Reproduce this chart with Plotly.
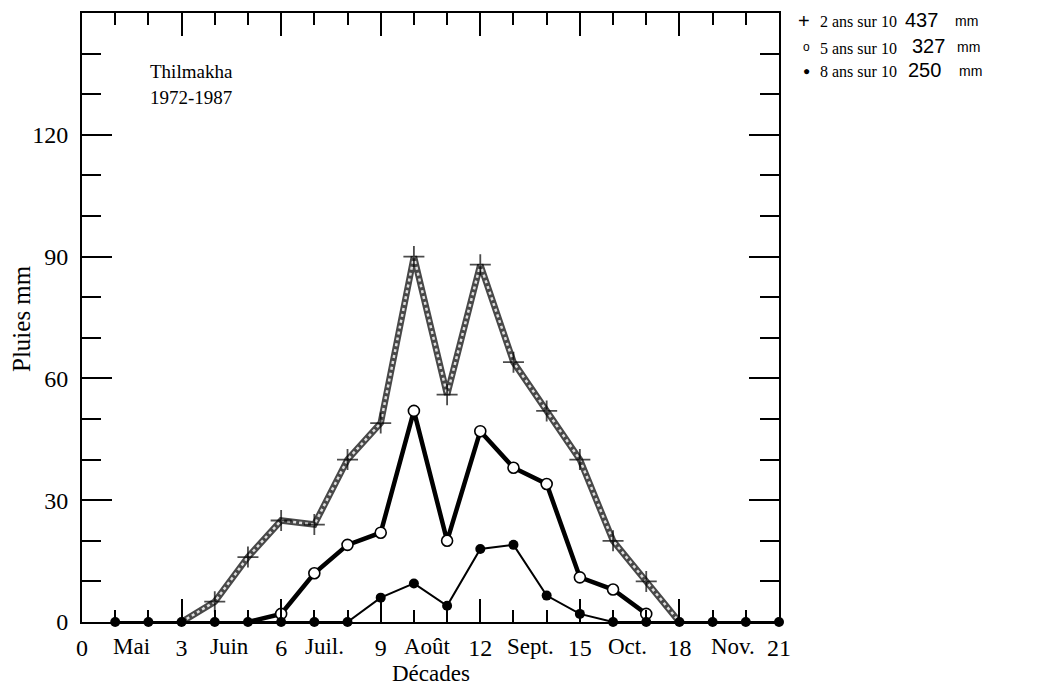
import plotly.graph_objects as go

# ---- data ----
dec_2ans = list(range(3, 19))
val_2ans = [0, 5, 16, 25, 24, 40, 49, 90, 56, 88, 64, 52, 40, 20, 10, 0]

dec_5ans = list(range(5, 18))
val_5ans = [0, 2, 12, 19, 22, 52, 20, 47, 38, 34, 11, 8, 2]

dec_8ans = list(range(1, 22))
val_8ans = [0, 0, 0, 0, 0, 0, 0, 0, 6, 9.5, 4, 18, 19, 6.5, 2, 0, 0, 0, 0, 0, 0]

month_labels = ["Mai", "Juin", "Juil.", "Août", "Sept.", "Oct.", "Nov."]
month_pos = [1.5, 4.45, 7.3, 10.4, 13.5, 16.45, 19.6]

x_ticks = [0, 3, 6, 9, 12, 15, 18, 21]
y_ticks = [0, 30, 60, 90, 120, 150]
y_ticktext = ["0", "30", "60", "90", "120", ""]

legend_labels = ["2 ans sur 10", "5 ans sur 10", "8 ans sur 10"]
legend_totals = ["437", "327", "250"]

SERIF = "Liberation Serif"
SANS = "Liberation Sans"

fig = go.Figure()

# 2 ans sur 10: grey hatched band
fig.add_trace(go.Scatter(x=dec_2ans, y=val_2ans, mode="lines",
                         line=dict(color="#484848", width=6.5),
                         cliponaxis=False, showlegend=False, hoverinfo="skip"))
fig.add_trace(go.Scatter(x=dec_2ans, y=val_2ans, mode="lines",
                         line=dict(color="#dddddd", width=2.5, dash="dot"),
                         cliponaxis=False, showlegend=False, hoverinfo="skip"))
plus_sizes = [0] + [15] * (len(dec_2ans) - 2) + [0]
fig.add_trace(go.Scatter(x=dec_2ans, y=val_2ans, mode="markers",
                         marker=dict(symbol="cross-thin", size=plus_sizes,
                                     line=dict(color="black", width=1.8)),
                         cliponaxis=False, showlegend=False))

# 5 ans sur 10: thick black line, open circles
circ_sizes = [0] + [11] * (len(dec_5ans) - 1)
fig.add_trace(go.Scatter(x=dec_5ans, y=val_5ans, mode="lines",
                         line=dict(color="black", width=4.5),
                         cliponaxis=False, showlegend=False, hoverinfo="skip"))
fig.add_trace(go.Scatter(x=dec_5ans, y=val_5ans, mode="markers",
                         marker=dict(symbol="circle", size=circ_sizes, color="#ffffff",
                                     opacity=1, line=dict(color="#000000", width=1.6)),
                         cliponaxis=False, showlegend=False))

# 8 ans sur 10: thin black line, filled dots
fig.add_trace(go.Scatter(x=dec_8ans, y=val_8ans, mode="lines+markers",
                         line=dict(color="black", width=2),
                         marker=dict(symbol="circle", size=10, color="black"),
                         cliponaxis=False, showlegend=False))

# page body has an 8px margin: the figure is shifted accordingly
OFF = 8
W, H = 1054 - OFF, 689 - OFF
L_REF, T_REF, AX_RIGHT, AX_BOTTOM = 82, 13, 779, 622
L, T = L_REF - OFF, T_REF - OFF
R = W - (AX_RIGHT - OFF)
B = H - (AX_BOTTOM - OFF)
PW, PH = W - L - R, H - T - B


def px(xp):
    return (xp - L_REF) / PW


def py(yp):
    return (AX_BOTTOM - yp) / PH


annotations = []
# station label
annotations.append(dict(x=px(148), y=py(71), xref="paper", yref="paper", text="Thilmakha",
                        showarrow=False, xanchor="left", yanchor="middle",
                        font=dict(family=SERIF, size=19, color="black")))
annotations.append(dict(x=px(148), y=py(97), xref="paper", yref="paper", text="1972-1987",
                        showarrow=False, xanchor="left", yanchor="middle",
                        font=dict(family=SERIF, size=19, color="black")))
# month labels
for m, p in zip(month_labels, month_pos):
    annotations.append(dict(x=p, y=py(646), xref="x", yref="paper", text=m,
                            showarrow=False, xanchor="center", yanchor="middle",
                            font=dict(family=SERIF, size=23, color="black")))
# axis titles
annotations.append(dict(x=px(431), y=py(674), xref="paper", yref="paper", text="Décades",
                        showarrow=False, xanchor="center", yanchor="middle",
                        font=dict(family=SERIF, size=23, color="black")))
annotations.append(dict(x=px(22), y=py(318), xref="paper", yref="paper", text="Pluies mm",
                        showarrow=False, textangle=-90, xanchor="center", yanchor="middle",
                        font=dict(family=SERIF, size=25, color="black")))

# custom legend
leg_y = [21, 47, 71]
leg_sym = ["+", "o", "●"]
leg_sym_size = [20, 12, 12]
leg_sym_x = [804, 806, 806]
num_x = [903, 910, 906]
mm_x = [953, 955, 957]
for i in range(3):
    annotations.append(dict(x=px(leg_sym_x[i]), y=py(leg_y[i]), xref="paper", yref="paper",
                            text=leg_sym[i], showarrow=False, xanchor="center", yanchor="middle",
                            font=dict(family=SANS, size=leg_sym_size[i], color="black")))
    annotations.append(dict(x=px(818), y=py(leg_y[i] + 1), xref="paper", yref="paper",
                            text=legend_labels[i], showarrow=False, xanchor="left", yanchor="middle",
                            font=dict(family=SERIF, size=16, color="black")))
    annotations.append(dict(x=px(num_x[i]), y=py(leg_y[i] - 1), xref="paper", yref="paper",
                            text=legend_totals[i], showarrow=False, xanchor="left", yanchor="middle",
                            font=dict(family=SANS, size=20, color="black")))
    annotations.append(dict(x=px(mm_x[i]), y=py(leg_y[i]), xref="paper", yref="paper",
                            text="mm", showarrow=False, xanchor="left", yanchor="middle",
                            font=dict(family=SANS, size=14, color="black")))

fig.update_layout(
    width=W, height=H,
    margin=dict(l=L, r=R, t=T, b=B, autoexpand=False),
    paper_bgcolor="white", plot_bgcolor="white",
    font=dict(family=SERIF, size=24, color="black"),
    showlegend=False,
    annotations=annotations,
    xaxis=dict(range=[0, 21], tickmode="array", tickvals=x_ticks,
               ticks="inside", ticklen=23, tickwidth=1.5, tickcolor="black",
               minor=dict(tickmode="linear", tick0=0, dtick=1, ticks="inside",
                          ticklen=12, tickwidth=1.5, tickcolor="black"),
               showline=True, linecolor="black", linewidth=2, mirror="ticks",
               showgrid=False, zeroline=False, ticklabelstandoff=3,
               tickfont=dict(family=SERIF, size=24, color="black")),
    yaxis=dict(range=[0, 150], tickmode="array", tickvals=y_ticks, ticktext=y_ticktext,
               ticks="inside", ticklen=30, tickwidth=2, tickcolor="black",
               minor=dict(tickmode="linear", tick0=0, dtick=10, ticks="inside",
                          ticklen=19, tickwidth=1.5, tickcolor="black"),
               showline=True, linecolor="black", linewidth=2, mirror="ticks",
               showgrid=False, zeroline=False, ticklabelstandoff=7,
               tickfont=dict(family=SERIF, size=24, color="black")),
)

fig.write_html("out.html")
